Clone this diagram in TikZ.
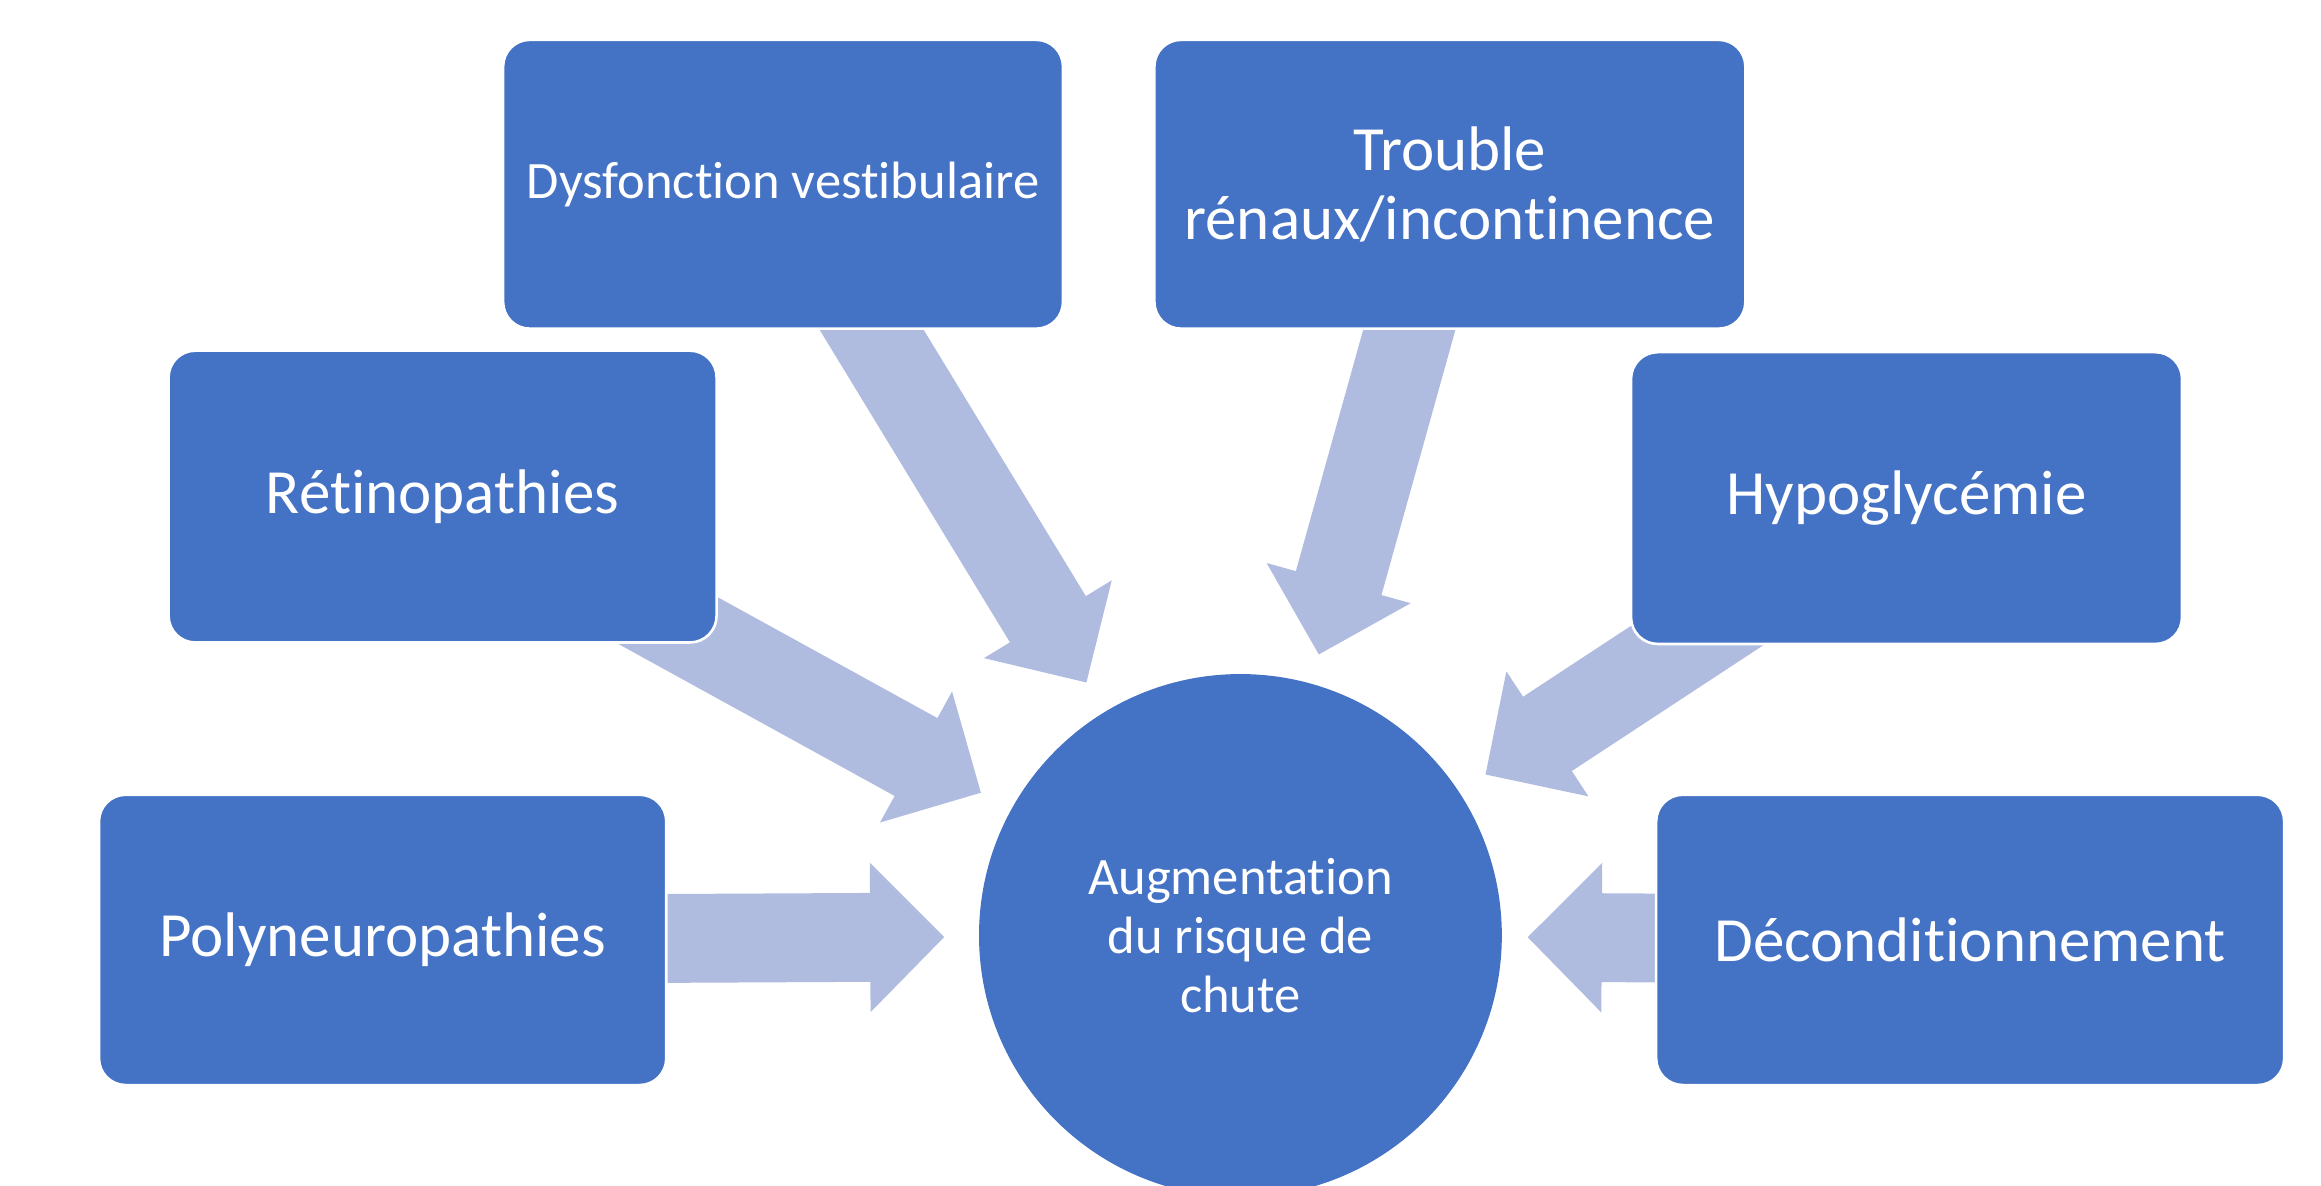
\documentclass[tikz,border=0pt]{standalone}
\usepackage{fontspec}
\setmainfont{Carlito}[Ligatures={NoCommon}]
\usetikzlibrary{shapes,arrows,positioning,calc,backgrounds}
\definecolor{boxblue}{HTML}{4472C4}
\definecolor{arrowblue}{HTML}{B0BCDF}

\begin{document}
\begin{tikzpicture}[x=0.01cm,y=0.01cm,
		cause/.style={rectangle, rounded corners=0.18cm, fill=boxblue, draw=white, line width=0.5pt,
			text=white, align=center, inner sep=0pt, font=\fontsize{12.1}{13.3}\selectfont},
		effect/.style={circle, fill=boxblue, text=white, align=center, minimum size=3.53cm,
			inner sep=0pt, font=\fontsize{10.1}{11.4}\selectfont},
		fatarrow/.style={fill=arrowblue}]
		\useasboundingbox (0,0) rectangle (1568,801);
		\clip (0,0) rectangle (1568,801);
		% centre
		\node[effect] (c) at (838,169) {Augmentation\\du risque de\\chute};
		% causes
		\node[cause, minimum width=3.78cm, minimum height=1.95cm, font=\fontsize{10.1}{11.4}\selectfont]
		(dysf) at (529,676.5) {Dysfonction vestibulaire};
		\node[cause, minimum width=3.99cm, minimum height=1.95cm] (troub) at (979.5,676.5) {Trouble\\rénaux/incontinence};
		\node[cause, minimum width=3.70cm, minimum height=1.97cm] (retin) at (299,465.5) {Rétinopathies};
		\node[cause, minimum width=3.72cm, minimum height=1.97cm] (hypo) at (1288,464.5) {Hypoglycémie};
		\node[cause, minimum width=3.83cm, minimum height=1.96cm] (poly) at (258.5,166) {Polyneuropathies};
		\node[cause, minimum width=4.24cm, minimum height=1.96cm] (decon) at (1331,166) {Déconditionnement};
		% arrows towards the centre
		\begin{scope}[on background layer]
			\foreach \b/\d in {poly/2,retin/2,dysf/2,troub/1.97,hypo/1.98,decon/1.94}{
				\coordinate (t) at ($(c.center)!\d cm!(\b.center)$);
				\coordinate (h) at ($(c.center)!\d cm+0.5cm!(\b.center)$);
				\fill[fatarrow] (t) -- ($(h)!0.505cm!90:(\b.center)$) -- ($(h)!0.3cm!90:(\b.center)$)
				-- ($(\b.center)!0.3cm!-90:(h)$) -- ($(\b.center)!0.3cm!90:(h)$)
				-- ($(h)!0.3cm!-90:(\b.center)$) -- ($(h)!0.505cm!-90:(\b.center)$) -- cycle;
			}
		\end{scope}
	\end{tikzpicture}
\end{document}
